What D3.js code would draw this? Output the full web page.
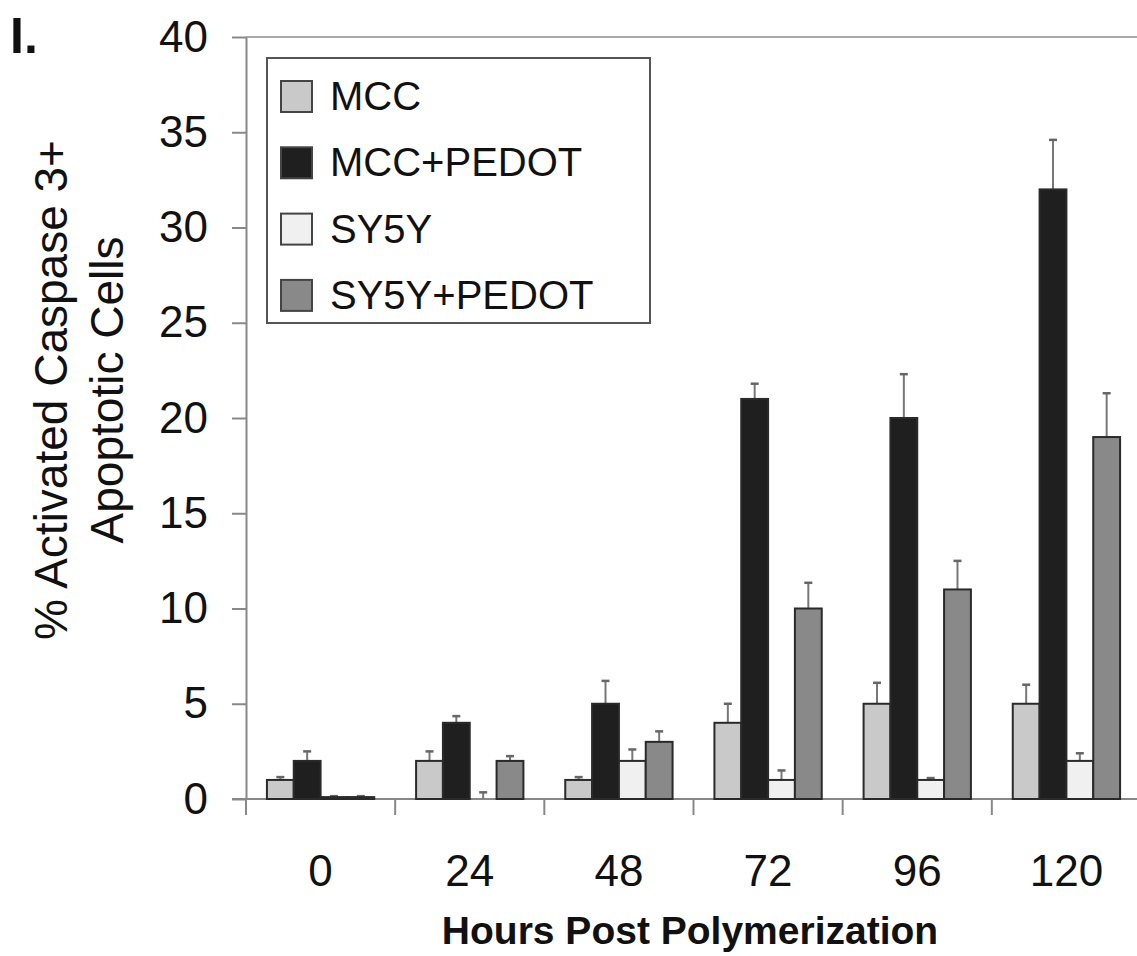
<!DOCTYPE html>
<html>
<head>
<meta charset="utf-8">
<script src="https://cdn.jsdelivr.net/npm/d3@7"></script>
<style>
  body { margin: 0; background: #fff; }
  svg { display: block; font-family: "Liberation Sans", Arial, sans-serif; }
</style>
</head>
<body>
<svg id="chart" width="1137" height="956"></svg>
<script>
// data
const hours = ["0", "24", "48", "72", "96", "120"];
const seriesNames = ["MCC", "MCC+PEDOT", "SY5Y", "SY5Y+PEDOT"];
const mcc = [1, 2, 1, 4, 5, 5];
const mccErr = [0.15, 0.5, 0.15, 1.0, 1.1, 1.0];
const mccPedot = [2, 4, 5, 21, 20, 32];
const mccPedotErr = [0.5, 0.35, 1.2, 0.8, 2.3, 2.6];
const sy5y = [0.1, 0, 2, 1, 1, 2];
const sy5yErr = [0.05, 0.35, 0.6, 0.5, 0.1, 0.4];
const sy5yPedot = [0.1, 2, 3, 10, 11, 19];
const sy5yPedotErr = [0.05, 0.25, 0.55, 1.35, 1.5, 2.3];
const yTicks = [0, 5, 10, 15, 20, 25, 30, 35, 40];

const values = [mcc, mccPedot, sy5y, sy5yPedot];
const errors = [mccErr, mccPedotErr, sy5yErr, sy5yPedotErr];
const fills = ["#c9c9c9", "#1f1f1f", "#f0f0f0", "#898989"];

const svg = d3.select("#chart");
const plotLeft = 246, plotRight = 1141, plotTop = 37, plotBottom = 799;

const x0 = d3.scaleBand().domain(hours).range([plotLeft, plotRight]).padding(0);
const x1 = d3.scaleBand().domain(seriesNames).range([0, x0.bandwidth()]).paddingInner(0).paddingOuter(0.78);
const y = d3.scaleLinear().domain([0, 40]).range([plotBottom, plotTop]);

// top frame line
svg.append("line")
  .attr("x1", plotLeft).attr("x2", 1137)
  .attr("y1", y(40)).attr("y2", y(40))
  .attr("stroke", "#a8a8a8").attr("stroke-width", 2);

// y axis
const yAxis = svg.append("g")
  .attr("transform", "translate(" + plotLeft + ",0)")
  .call(d3.axisLeft(y).tickValues(yTicks).tickSize(14).tickPadding(24).tickSizeOuter(0));
yAxis.select(".domain").attr("stroke", "#888").attr("stroke-width", 2);
yAxis.selectAll(".tick line").attr("stroke", "#888").attr("stroke-width", 2);
yAxis.selectAll(".tick text").attr("font-size", 44).attr("fill", "#111")
  .attr("font-family", "Liberation Sans, Arial, sans-serif");

// x axis line
svg.append("line")
  .attr("x1", plotLeft - 14).attr("x2", 1137)
  .attr("y1", plotBottom).attr("y2", plotBottom)
  .attr("stroke", "#888").attr("stroke-width", 2);

// x ticks at group boundaries
const boundaries = hours.map(h => x0(h));
svg.selectAll(".xtick")
  .data(boundaries)
  .enter()
  .append("line")
  .attr("class", "xtick")
  .attr("x1", d => d).attr("x2", d => d)
  .attr("y1", plotBottom).attr("y2", plotBottom + 16)
  .attr("stroke", "#888").attr("stroke-width", 2);

// x labels
const xAxis = svg.append("g")
  .attr("transform", "translate(0," + plotBottom + ")")
  .call(d3.axisBottom(x0).tickSize(0).tickPadding(56));
xAxis.select(".domain").remove();
xAxis.selectAll(".tick text").attr("font-size", 44).attr("fill", "#111")
  .attr("font-family", "Liberation Sans, Arial, sans-serif");

// bars and error bars
const groups = svg.selectAll(".group")
  .data(hours)
  .enter()
  .append("g")
  .attr("class", "group")
  .attr("transform", d => "translate(" + x0(d) + ",0)");

seriesNames.forEach((name, s) => {
  const cx = x1(name) + x1.bandwidth() / 2;
  groups.append("line")
    .attr("x1", cx).attr("x2", cx)
    .attr("y1", (d, i) => y(values[s][i]))
    .attr("y2", (d, i) => y(values[s][i] + errors[s][i]))
    .attr("stroke", "#777").attr("stroke-width", 2);
  groups.append("line")
    .attr("x1", cx - 4).attr("x2", cx + 4)
    .attr("y1", (d, i) => y(values[s][i] + errors[s][i]))
    .attr("y2", (d, i) => y(values[s][i] + errors[s][i]))
    .attr("stroke", "#666").attr("stroke-width", 2.5);
  groups.append("rect")
    .attr("x", x1(name))
    .attr("y", (d, i) => y(values[s][i]))
    .attr("width", x1.bandwidth())
    .attr("height", (d, i) => plotBottom - y(values[s][i]))
    .attr("fill", fills[s])
    .attr("stroke", "#2a2a2a")
    .attr("stroke-width", 2);
});

// legend
const legend = svg.append("g");
legend.append("rect")
  .attr("x", 267).attr("y", 58)
  .attr("width", 383).attr("height", 265)
  .attr("fill", "#fff").attr("stroke", "#555").attr("stroke-width", 2);
seriesNames.forEach((name, s) => {
  const cy = 96 + s * 66.3;
  legend.append("rect")
    .attr("x", 281).attr("y", cy - 15)
    .attr("width", 31).attr("height", 31)
    .attr("fill", fills[s]).attr("stroke", "#444").attr("stroke-width", 2);
  legend.append("text")
    .attr("x", 330).attr("y", cy + 14)
    .attr("font-size", 40).attr("fill", "#111")
    .text(name);
});

// y axis title
const yTitle = svg.append("text")
  .attr("transform", "translate(67,390) rotate(-90)")
  .attr("text-anchor", "middle")
  .attr("font-size", 46).attr("fill", "#111");
yTitle.append("tspan").attr("x", 0).attr("y", 0).text("% Activated Caspase 3+");
yTitle.append("tspan").attr("x", 0).attr("y", 56).text("Apoptotic Cells");

// x axis title
svg.append("text")
  .attr("x", 690).attr("y", 944)
  .attr("text-anchor", "middle")
  .attr("font-size", 39).attr("font-weight", "bold").attr("fill", "#111")
  .text("Hours Post Polymerization");

// panel letter
svg.append("text")
  .attr("x", 10).attr("y", 53)
  .attr("font-size", 50).attr("font-weight", "bold").attr("fill", "#111")
  .text("I.");
</script>
</body>
</html>
